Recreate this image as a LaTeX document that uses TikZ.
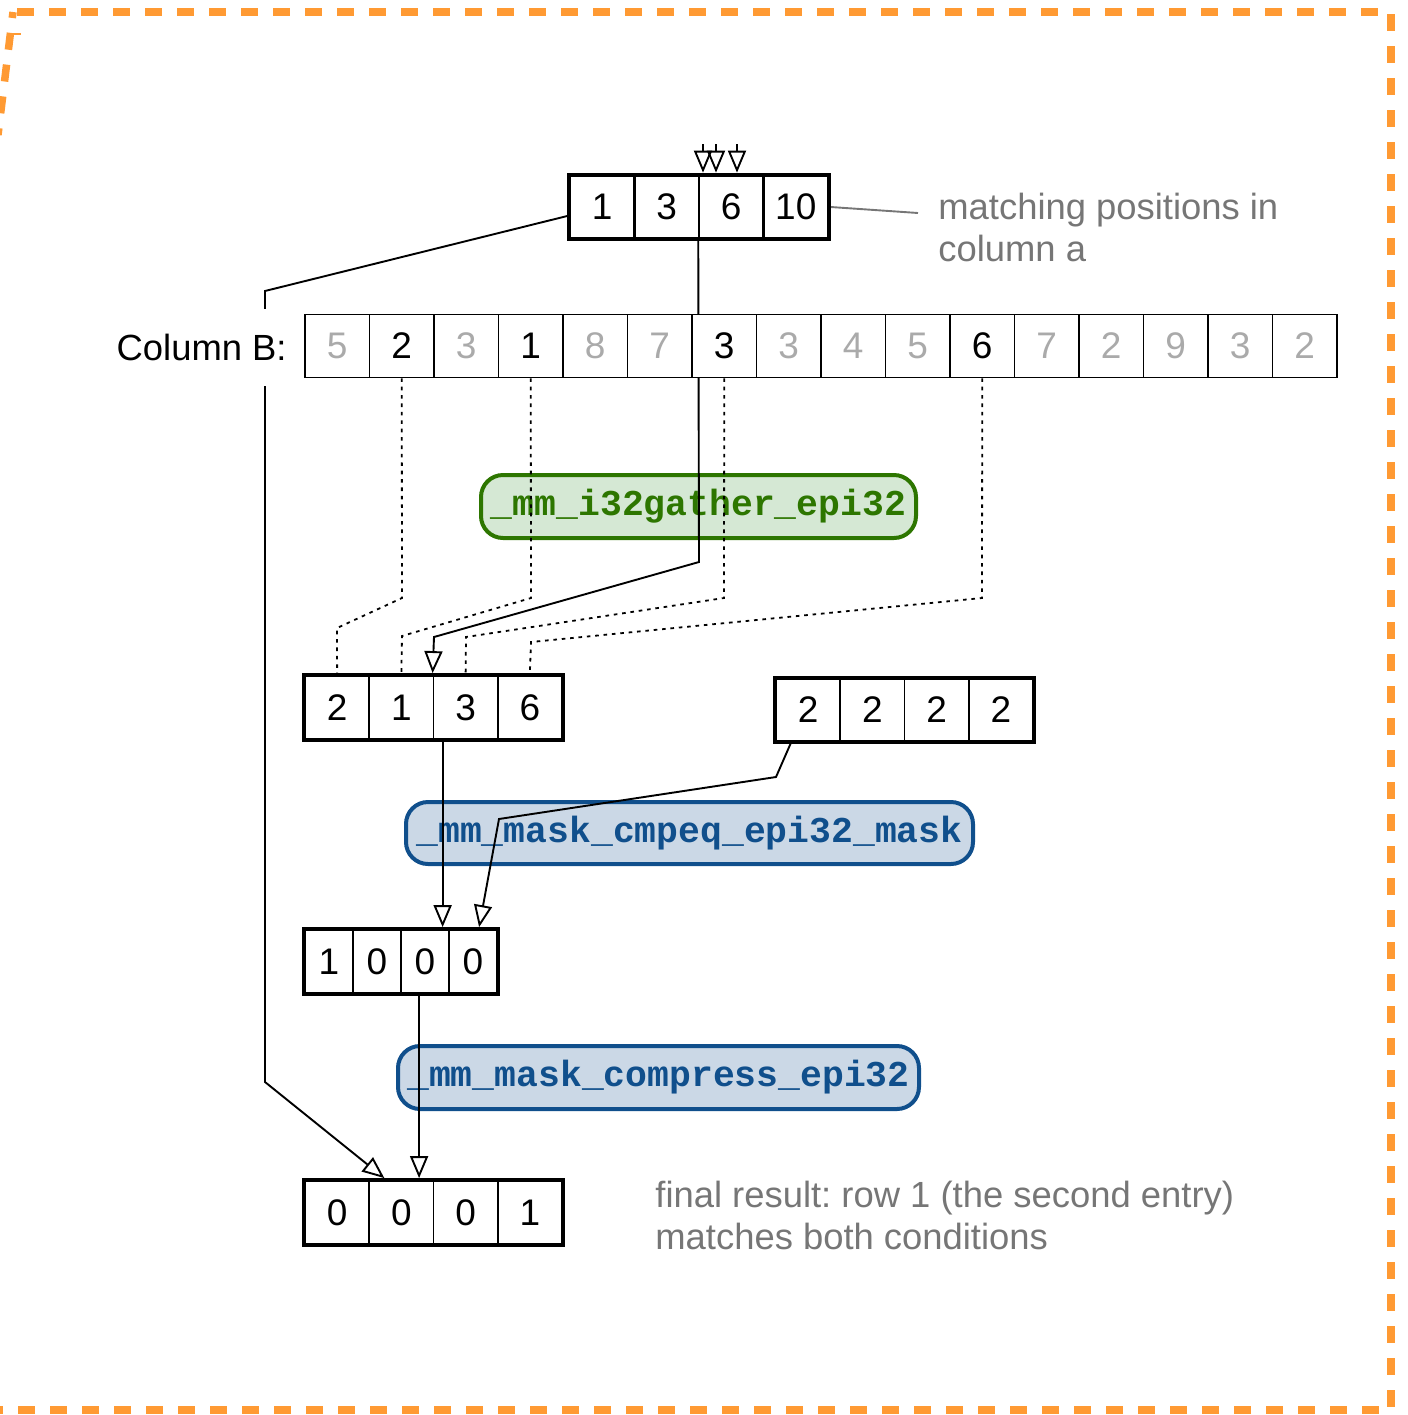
\documentclass[tikz,border=0pt]{standalone}
\usepackage{fontspec}
\setmainfont{Liberation Sans}
\newfontfamily\codefont{Liberation Mono}
\usetikzlibrary{arrows.meta,fit,calc}
\pgfdeclarelayer{opl}
\pgfdeclarelayer{wires}
\pgfsetlayers{opl,wires,main}
\frenchspacing

\definecolor{frameorange}{RGB}{255,154,51}
\definecolor{labelgray}{RGB}{118,118,118}
\definecolor{dimgray}{RGB}{170,170,170}
\definecolor{gatherfill}{RGB}{213,232,212}
\definecolor{gatherline}{RGB}{45,118,0}
\definecolor{maskfill}{RGB}{203,216,230}
\definecolor{maskline}{RGB}{16,79,140}

\begin{document}
\begin{tikzpicture}[x=0.5pt,y=-0.5pt,
  txt/.style={font=\fontsize{18.2pt}{21pt}\selectfont},
  cellA/.style={draw, fill=white, line width=0.9pt, inner sep=0pt,
    minimum width=32.1pt, minimum height=31.5pt, font=\fontsize{18.5pt}{22pt}\selectfont},
  cellM/.style={cellA, minimum width=24pt},
  cellB/.style={cellA, line width=0.75pt, minimum width=32.25pt},
  boxframe/.style={draw, line width=2pt, inner sep=0pt, fit=#1},
  opbox/.style={rounded corners=11pt, line width=2pt, inner sep=0pt,
    font=\codefont\fontsize{18.2pt}{21pt}\selectfont\bfseries},
  wire/.style={line width=0.95pt},
  warrow/.style={-{Triangle[open,length=11pt,width=9pt]}},
  dots/.style={line width=0.9pt, dash pattern=on 1.8pt off 2.4pt},
]
\useasboundingbox (0,0) rectangle (1408,1415);

% dashed outer frame
\begin{pgfonlayer}{opl}
\begin{scope}
  \clip (0,0) rectangle (1408,1415);
  \draw[frameorange, line width=3.75pt, dash pattern=on 8.5pt off 7.5pt, dash phase=5.5pt]
    (13,12) -- (-2,135);
  \draw[frameorange, line width=3.75pt, dash pattern=on 8.5pt off 7.5pt, dash phase=14pt]
    (13,12) -- (1391,12) -- (1391,1410) -- (-10,1410);
  \draw[frameorange, line width=1pt] (11,34) -- (21,34);
\end{scope}

% intrinsic operations
\node[opbox, fill=gatherfill, draw=gatherline, text=gatherline,
  minimum width=217.5pt, minimum height=31.5pt] (gather) at (698.5,506.5)
  {\_mm\_i32gather\_epi32};
\node[opbox, fill=maskfill, draw=maskline, text=maskline,
  minimum width=283.5pt, minimum height=31pt] (cmpeq) at (689.5,833)
  {\_mm\_mask\_cmpeq\_epi32\_mask};
\node[opbox, fill=maskfill, draw=maskline, text=maskline,
  minimum width=260.5pt, minimum height=31.5pt] (compress) at (658.5,1077.5)
  {\_mm\_mask\_compress\_epi32};
\end{pgfonlayer}

% matching positions
\foreach \v [count=\i] in {1,3,6,10}
  \node[cellA] (t\i) at ({570+64.5*(\i-0.5)},207) {\v};
\node[boxframe=(t1)(t4)] (top) {};

% column B
\foreach \v/\c [count=\i] in {5/dimgray,2/black,3/dimgray,1/black,8/dimgray,7/dimgray,
    3/black,3/dimgray,4/dimgray,5/dimgray,6/black,7/dimgray,2/dimgray,9/dimgray,3/dimgray,2/dimgray}
  \node[cellB, text=\c] (b\i) at ({305+64.5*(\i-0.5)},346) {\v};
\node[txt, fill=white, anchor=east, minimum height=38.5pt, inner xsep=2pt, inner ysep=0pt]
  (colb) at (291,347) {Column B:};

% gathered values
\foreach \v [count=\i] in {2,1,3,6}
  \node[cellA] (g\i) at ({305+64.25*(\i-0.5)},707.5) {\v};
\node[boxframe=(g1)(g4)] (gath) {};

% comparison constant
\foreach \v [count=\i] in {2,2,2,2}
  \node[cellA] (c\i) at ({776+64.25*(\i-0.5)},710) {\v};
\node[boxframe=(c1)(c4)] (cmp) {};

% comparison mask
\foreach \v [count=\i] in {1,0,0,0}
  \node[cellM] (m\i) at ({305+48*(\i-0.5)},961.5) {\v};
\node[boxframe=(m1)(m4)] (mask) {};

% compressed result
\foreach \v [count=\i] in {0,0,0,1}
  \node[cellA] (r\i) at ({305+64.25*(\i-0.5)},1212.5) {\v};
\node[boxframe=(r1)(r4)] (res) {};

% annotations
\node[txt, text=labelgray, anchor=west, align=left, inner sep=0pt] (lbl) at (938,227)
  {matching positions in\\column a};
\node[txt, text=labelgray, anchor=west, align=left, inner sep=0pt] (note) at (655,1215)
  {final result: row 1 (the second entry)\\matches both conditions};

\coordinate (lblend) at (918,213);
\coordinate (in1) at (703,144);
\coordinate (in2) at (716,144);
\coordinate (in3) at (737,144);

% connectors
\begin{pgfonlayer}{wires}
\draw[wire, draw=labelgray] (top.east) -- (lblend);
\foreach \k in {1,2,3}
  \draw[wire, warrow] (in\k) -- (in\k |- top.north);

\draw[wire, warrow] ([yshift=-4.5pt]top.west) -- (265,291) -- (265,1082)
  -- ($(r2.north west)+(16,-2)$);
\draw[wire, warrow] (t3.south west) -- (699,562) -- (434,637) -- (g3.north west |- gath.north);

\draw[dots] (b2.south) -- (402,598) -- (337,628) -- (g1.north |- gath.north);
\draw[dots] (b4.south) -- (531,598) -- (402,636) -- (g2.north |- gath.north);
\draw[dots] (b7.south) -- (724,598) -- (466,637) -- (g3.north |- gath.north);
\draw[dots] (b11.south) -- (982,598) -- (531,642) -- (g4.north |- gath.north);

\draw[wire, warrow] ([xshift=5pt]g3.south west) -- ([xshift=5pt]g3.south west |- mask.north);
\draw[wire, warrow] ([xshift=8pt]c1.south west) -- (776,777) -- (499,819)
  -- ([xshift=15.5pt]m4.north west |- mask.north);
\draw[wire, warrow] ([xshift=9.5pt]m3.south west) -- ([xshift=9.5pt]m3.south west |- res.north);
\end{pgfonlayer}
\end{tikzpicture}
\end{document}
